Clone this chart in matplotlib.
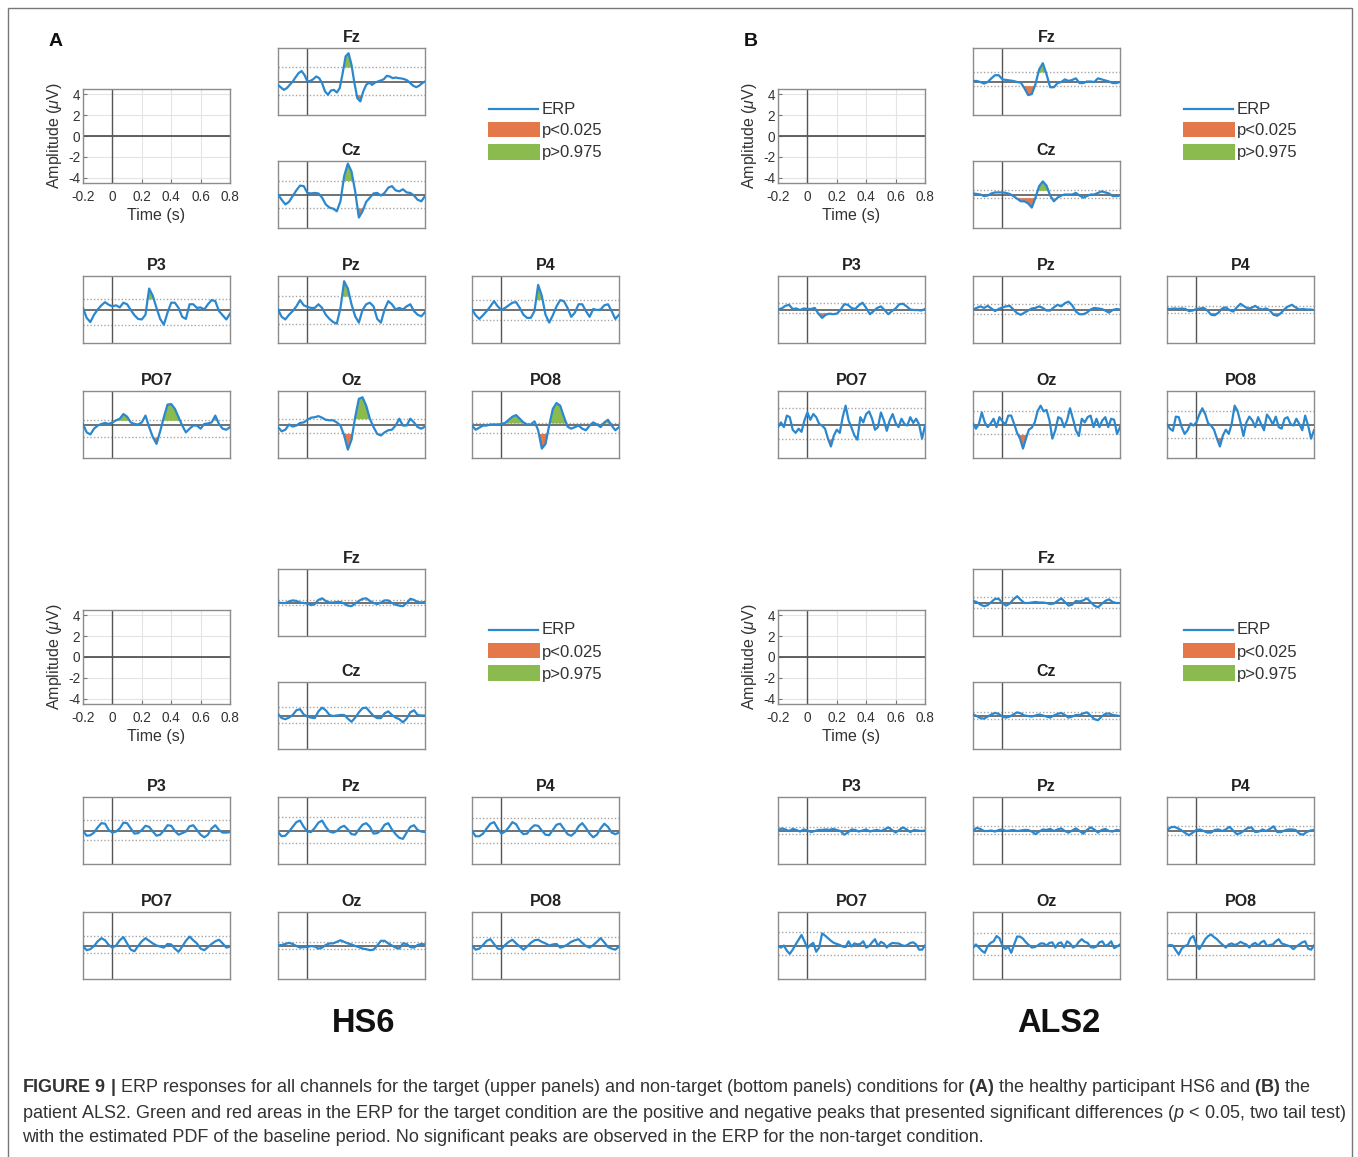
import numpy as np
import matplotlib
matplotlib.use('Agg')
import matplotlib.pyplot as plt
from matplotlib.patches import Rectangle
from matplotlib.lines import Line2D

plt.rcParams['font.family'] = ['Liberation Sans', 'DejaVu Sans']
plt.rcParams['mathtext.fontset'] = 'custom'
plt.rcParams['mathtext.rm'] = 'Liberation Sans'
plt.rcParams['mathtext.it'] = 'Liberation Sans:italic'
plt.rcParams['mathtext.bf'] = 'Liberation Sans:bold'
plt.rcParams['axes.unicode_minus'] = False

# ---------------- data ----------------
channels = ['Fz', 'Cz', 'P3', 'Pz', 'P4', 'PO7', 'Oz', 'PO8']

scale_xticks = [-0.2, 0, 0.2, 0.4, 0.6, 0.8]
scale_xticklabels = ['-0.2', '0', '0.2', '0.4', '0.6', '0.8']
scale_yticks = [-4, -2, 0, 2, 4]
scale_yticklabels = ['-4', '-2', '0', '2', '4']
legend_labels = ['ERP', 'p<0.025', 'p>0.975']
subject_names = ['HS6', 'ALS2']
panel_letters = ['A', 'B']

# HS6, target (uV); samples evenly spaced over -0.2 .. 0.8 s
hs6_t_Fz = [-0.32, -0.57, -0.8, -0.63, -0.32, 0, 0.41, 0.8, 1.0, 0.63, 0, 0.06, 0.22, 0.48, 0.32, -0.16, -0.95,
            -1.27, -0.86, -0.8, -1.05, -0.63, 0.8, 2.4, 2.7, 1.6, -0.16, -1.6, -1.9, -0.95, -0.32, -0.1, -0.32,
            -0.1, 0, 0.1, 0.22, 0.54, 0.48, 0.32, 0.38, 0.32, 0.29, 0.22, 0.1, -0.16, -0.41, -0.54, -0.41, -0.16, 0]
hs6_t_Cz = [0, -0.5, -0.95, -0.7, -0.15, 0.4, 0.85, 0.8, 0.15, 0.1, 0.15, 0.1, -0.3, -0.95, -1.25, -1.35, -1.6,
            -0.65, 1.75, 2.95, 2.2, 0.3, -2.2, -1.6, -0.7, -0.3, 0.1, 0.15, -0.1, 0.15, 0.65, 0.8, 0.4, 0.3, 0.5,
            0.2, 0.15, -0.1, -0.5, -0.65, -0.15]
hs6_t_P3 = [0.15, -0.8, -1.2, -0.5, 0, 0.4, 0.7, 0.45, 0.3, 0.4, 0.2, 0.65, 0.5, -0.05, -0.55, -0.9, -0.95, -0.5,
            2.0, 1.3, 0.15, -0.9, -1.45, -0.3, 0.65, 0.65, 0.15, -0.7, -0.9, 0.5, 0.5, 0.15, 0.2, 0, 0.5, 0.9, 0.8,
            -0.15, -0.55, -0.95, -0.4]
hs6_t_Pz = [0, -0.7, -0.95, -0.5, -0.15, 0.3, 0.9, 0.4, 0.25, 0.15, 0.15, 0.5, 0.15, -0.5, -0.9, -1.2, -1.35, 0.15,
            2.7, 2.0, 0.5, -0.65, -1.25, -0.05, 0.5, 0.65, 0.3, -0.9, -1.25, 0, 0.8, 0.5, 0, 0.15, 0, 0.3, 0.5,
            -0.15, -0.5, -0.65, -0.25]
hs6_t_P4 = [0, -0.55, -0.9, -0.55, -0.15, 0.3, 0.8, 0.3, -0.05, 0.15, 0.4, 0.65, 0.7, 0.15, -0.5, -0.8, -0.8,
            -0.15, 2.35, 1.3, -0.5, -1.25, -0.55, 0.3, 0.9, 0.8, 0.15, -0.7, -0.3, 0.5, 0.5, -0.15, -0.7, 0.05,
            -0.05, 0, 0.4, 0.5, -0.15, -0.9, -0.5]
hs6_t_PO7 = [0.05, -0.75, -0.95, -0.4, -0.1, 0.05, 0.15, 0.05, 0.2, 0.4, 0.55, 1.0, 0.75, 0.2, 0.05, 0, 0.2, 0.85,
             -0.25, -1.2, -1.85, -0.65, 0.7, 1.9, 1.95, 1.5, 0.7, -0.1, -0.75, -0.4, -0.1, -0.1, -0.4, 0.05, 0.1,
             0.2, 0.85, 0.05, -0.4, -0.5, -0.25]
hs6_t_Oz = [-0.25, -0.65, -0.5, 0, -0.2, -0.1, 0.15, 0.2, 0.45, 0.65, 0.7, 0.8, 0.65, 0.45, 0.4, 0.4, 0.2, -0.1,
            -1.05, -2.4, -1.45, 0.7, 2.45, 2.6, 1.8, 0.55, -0.25, -0.9, -1.05, -0.75, -0.55, -0.5, -0.1, 0.55, -0.1,
            -0.1, 0.55, 0.2, -0.25, -0.4, -0.2]
hs6_t_PO8 = [-0.1, -0.5, -0.3, -0.1, -0.1, 0, 0, 0, 0.05, 0.15, 0.45, 0.75, 0.9, 0.55, 0.2, 0, 0, 0.3, -0.55, -2.3,
             -1.85, -0.1, 1.5, 2.05, 1.8, 0.75, -0.2, -0.4, -0.25, -0.1, -0.4, -0.55, -0.1, 0.2, 0, -0.25, 0.2,
             0.45, -0.1, -0.55, -0.25]

# ALS2, target
als2_t_Fz = [0.05, 0.05, -0.05, -0.2, -0.05, 0.3, 0.6, 0.6, 0.2, 0.15, 0.1, 0.05, -0.05, -0.1, -0.65, -1.3, -1.2,
             -0.25, 1.15, 1.75, 0.7, -0.55, -0.55, -0.15, -0.05, 0.2, 0.05, 0.15, 0.3, -0.15, -0.15, 0, 0, -0.05,
             0.3, 0.2, 0.1, 0, -0.15, -0.15, -0.05]
als2_t_Cz = [0.1, 0.05, 0, -0.15, -0.1, 0.1, 0.2, 0.2, 0.2, 0.15, 0.05, -0.15, -0.4, -0.65, -0.65, -0.85, -1.25,
             -0.3, 0.8, 1.25, 0.85, -0.1, -0.65, -0.3, -0.1, 0, 0, 0, 0.15, -0.1, -0.3, -0.15, 0, 0, 0.15, 0.3, 0.2,
             0.1, -0.15, -0.15, -0.1]
als2_t_P3 = [0, 0.1, 0.35, 0.45, 0.05, 0.1, -0.05, 0.1, 0.05, 0.05, 0.15, -0.4, -0.8, -0.5, -0.4, -0.45, -0.4,
             -0.05, 0.5, 0.45, 0.15, 0.05, 0.4, 0.65, 0.15, -0.45, -0.15, 0.15, 0.3, -0.05, -0.45, -0.15, 0.1, 0.5,
             0.55, 0.3, 0, -0.05, -0.05, -0.1, 0.05]
als2_t_Pz = [0, 0.15, 0.3, 0.15, 0.35, 0.1, -0.15, 0.05, 0.2, 0.3, 0.35, 0, -0.35, -0.5, -0.3, -0.1, 0.1, 0.15,
             0.3, 0.15, -0.1, -0.1, 0.2, 0.45, 0.3, 0.6, 0.75, 0.4, -0.2, -0.45, -0.45, -0.3, 0, 0.15, 0.1, 0.05,
             -0.1, -0.3, -0.05, 0.05, 0]
als2_t_P4 = [0.05, 0.05, 0.1, 0.05, 0.1, 0.05, -0.15, -0.1, 0.05, 0.1, 0.15, -0.1, -0.5, -0.55, -0.3, 0.1, 0.2,
             -0.05, -0.2, 0.2, 0.55, 0.3, 0.1, 0.15, 0.35, 0.1, 0, 0.1, -0.1, -0.5, -0.6, -0.35, 0.05, 0.3, 0.45,
             0.2, 0, 0.05, 0, 0, -0.05]
als2_t_PO7 = [-0.25, 0.2, -0.25, 0.85, 0.7, -0.5, -0.8, -0.4, -0.7, 0.4, 1.15, 0.45, 1.0, 0.7, 0.05, -0.1, -0.4,
              -1.35, -2.1, -1.05, -0.5, -0.8, 0.7, 1.8, 0.4, -0.3, -1.05, -1.45, 0.7, 0.2, 1.0, 1.25, 0.55, -0.5,
              -0.25, 1.15, 0.4, -0.6, 0.4, 1.0, 0.15, -0.25, 0.55, 0.05, -0.1, 0.7, 0.15, 0.55, 0, -1.35, -0.1]
als2_t_Oz = [0.1, -0.4, 0.05, 1.15, 0.2, -0.25, 0.1, 0.55, -0.25, 0.7, 0.3, 0, 0.85, 0.85, 0.05, -0.8, -1.35, -2.3,
             -1.35, -0.5, -0.3, 0.2, 1.3, 1.8, 1.25, 1.4, 0.4, -1.35, -0.55, 0.7, 0.55, -0.25, 0.4, 1.55, 0.55,
             -0.55, -1.1, 0.55, 0.2, 0.7, 0.85, -0.25, 0.55, -0.25, 0.4, 0.7, -0.25, 0.55, 0.45, -0.9, -0.25]
als2_t_PO8 = [0.05, -0.4, -0.6, 0.75, 0.7, -0.25, -0.9, -0.55, 0.1, -0.1, 0.2, 0.95, 1.55, 1.0, 0.1, -0.1, -0.5,
              -1.35, -2.1, -1.05, -0.5, -0.9, 0.05, 1.8, 1.3, 0.2, -1.1, 0.2, 0.75, 0.4, -0.25, 0.7, 0.05, -0.55,
              0.95, 0.55, 0, 0.75, -0.25, -0.4, 0.55, 0.7, 0.05, -0.1, 0.55, 0.05, -0.55, 0.85, -0.1, -1.35, -0.55]

# HS6, non-target
hs6_n_Fz = [0, -0.05, -0.05, 0.1, 0.2, 0.15, 0, -0.05, -0.1, -0.25, -0.15, 0.25, 0.4, 0.15, 0, 0, 0.05, 0.05, -0.1,
            -0.3, -0.35, -0.1, 0.15, 0.35, 0.4, 0.15, -0.05, -0.15, 0, 0.2, 0.2, -0.05, -0.2, -0.3, -0.35, -0.05,
            0.35, 0.25, 0.05, 0, 0.05]
hs6_n_Cz = [0.15, -0.25, -0.35, -0.2, 0.05, 0.5, 0.6, 0.1, -0.1, -0.2, -0.25, 0.4, 0.75, 0.5, 0.05, -0.05, 0, 0.05,
            0.05, -0.3, -0.6, -0.2, 0.3, 0.7, 0.75, 0.35, -0.05, -0.25, -0.25, 0.2, 0.4, 0.05, -0.2, -0.35, -0.65,
            -0.3, 0.3, 0.5, 0.05, 0, 0]
hs6_n_P3 = [-0.05, -0.5, -0.45, -0.2, 0.3, 0.7, 0.65, 0.05, -0.2, -0.1, 0.2, 0.75, 0.7, 0.2, -0.3, -0.25, 0.05,
            0.45, 0.35, -0.1, -0.5, -0.4, 0, 0.5, 0.45, -0.05, -0.4, -0.25, -0.1, 0.4, 0.5, 0.05, -0.4, -0.65, -0.4,
            0.2, 0.5, 0.05, -0.2, -0.2, -0.15]
hs6_n_Pz = [-0.15, -0.55, -0.5, -0.1, 0.35, 0.8, 0.95, 0.35, -0.1, -0.15, 0.25, 0.75, 0.95, 0.35, -0.1, -0.2,
            -0.05, 0.3, 0.45, 0.1, -0.35, -0.4, 0.1, 0.55, 0.7, 0.35, -0.3, -0.25, 0, 0.55, 0.7, 0.1, -0.35, -0.7,
            -0.8, -0.2, 0.35, 0.5, 0.05, -0.1, -0.15]
hs6_n_P4 = [-0.05, -0.55, -0.55, -0.3, 0.2, 0.65, 0.8, 0.2, -0.3, -0.1, 0.3, 0.8, 0.6, 0, -0.35, -0.3, 0.2, 0.5,
            0.45, 0, -0.4, -0.45, 0.05, 0.55, 0.65, 0.15, -0.35, -0.5, -0.2, 0.4, 0.7, 0.25, -0.3, -0.65, -0.4, 0.2,
            0.65, 0.35, -0.2, -0.35, -0.2]
hs6_n_PO7 = [-0.05, -0.45, -0.35, -0.05, 0.4, 0.7, 0.5, 0.05, -0.2, 0, 0.5, 0.8, 0.2, -0.4, -0.55, -0.05, 0.4, 0.7,
             0.45, 0.2, 0, -0.1, -0.2, 0.15, 0.1, -0.3, -0.6, -0.1, 0.45, 0.85, 0.5, 0.2, -0.3, -0.45, -0.15, 0.15,
             0.4, 0.55, 0.2, -0.2, -0.1]
hs6_n_Oz = [0, 0.05, 0.15, 0.25, 0.15, -0.05, -0.2, -0.15, -0.15, -0.05, -0.1, -0.3, -0.2, 0.05, 0.2, 0.2, 0.35,
            0.5, 0.35, 0.2, 0.1, -0.05, -0.15, -0.3, -0.35, -0.45, -0.4, 0, 0.45, 0.45, 0.2, 0, -0.2, -0.3, 0.2,
            0.15, -0.15, -0.2, 0.05, 0.15, 0.1]
hs6_n_PO8 = [-0.05, -0.4, -0.3, 0.05, 0.45, 0.6, 0.15, -0.3, -0.35, 0.05, 0.35, 0.55, 0.2, -0.1, -0.4, -0.1, 0.25,
             0.5, 0.55, 0.35, 0.2, 0, 0.1, 0.15, -0.2, -0.1, 0.1, 0.35, 0.5, 0.6, 0.25, -0.05, -0.2, 0.05, 0.35,
             0.7, 0.3, -0.15, -0.3, -0.4, -0.1]

# ALS2, non-target
als2_n_Fz = [0.15, 0.05, -0.2, -0.35, -0.25, 0.05, 0.35, 0.35, -0.05, -0.3, -0.1, 0.3, 0.6, 0.25, -0.05, -0.05, 0,
             0.05, 0, 0, -0.05, -0.15, -0.1, 0.15, 0.4, 0.05, -0.3, -0.2, 0.15, 0.1, 0.2, 0.4, 0.05, -0.3, -0.45,
             -0.15, 0.15, 0.3, 0.05, -0.05, -0.05]
als2_n_Cz = [0.1, -0.05, -0.25, -0.3, -0.1, 0.1, 0.25, 0.15, -0.1, -0.2, -0.1, 0.1, 0.3, 0.2, 0, -0.05, -0.1, 0,
             0.1, 0, -0.1, -0.2, 0, 0.15, 0.25, 0.05, -0.2, -0.1, 0.05, 0.05, 0.2, 0.3, 0, -0.35, -0.45, -0.1, 0.15,
             0.2, 0.05, 0, -0.05]
als2_n_P3 = [0, 0.2, 0.1, -0.05, 0.15, 0.05, -0.1, 0.1, 0, -0.15, -0.05, 0.05, 0.05, 0.1, 0.05, 0.15, 0.05, -0.05,
             -0.4, -0.2, 0.1, 0.05, -0.1, 0, 0.1, -0.1, 0, 0.05, -0.05, 0.1, 0.3, 0.05, -0.2, 0.05, 0.3, 0.1, -0.15,
             0.05, 0, -0.05, 0]
als2_n_Pz = [0, 0.25, 0.15, -0.05, -0.05, 0, -0.1, 0.05, 0.1, -0.05, 0, 0.05, -0.05, 0, 0.05, 0.05, -0.1, -0.35,
             -0.1, 0.1, 0.05, 0.15, -0.05, 0.1, 0.2, -0.05, -0.2, 0, 0.2, -0.05, -0.3, 0.05, 0.3, 0.1, -0.2, 0.05,
             0.15, -0.05, -0.1, 0.05, 0]
als2_n_P4 = [0.05, 0.3, 0.35, 0.2, 0, -0.25, -0.45, -0.2, 0.05, 0.1, -0.05, -0.2, -0.2, 0.05, 0.1, -0.05, 0.1,
             0.35, 0, -0.35, -0.25, 0, 0.25, 0.3, -0.15, -0.1, 0.1, -0.05, 0.15, 0.4, -0.15, -0.15, 0, 0.1, 0.1,
             0.05, -0.3, -0.4, -0.15, 0, 0.05]
als2_n_PO7 = [-0.05, -0.2, 0, -0.5, -0.8, -0.4, 0.1, 0.55, 1.0, 0.4, -0.25, 0.05, 0.25, -0.6, -0.2, 1.15, 0.95,
              0.7, 0.45, 0.25, 0.15, 0.05, -0.1, -0.15, 0.4, -0.1, 0.2, 0.1, 0.15, 0.4, -0.2, -0.05, 0.3, 0.6,
              -0.05, 0.35, 0.2, -0.2, 0.1, 0.25, 0.2, 0.2, 0.05, -0.05, 0.05, 0.25, 0.3, 0.1, -0.4, -0.4, 0]
als2_n_Oz = [-0.2, 0.1, -0.2, -0.5, -0.7, -0.05, 0.25, 0.4, 0.9, 0.7, 0, -0.35, -0.1, -0.7, 0.1, 0.85, 0.85, 0.65,
             0.3, 0.05, -0.2, -0.15, 0, 0.2, 0.2, 0, 0.25, 0.3, -0.2, 0.2, 0.3, -0.2, 0.4, 0.2, -0.2, -0.05, 0.35,
             0.6, 0.35, 0.25, -0.15, -0.2, -0.1, 0.3, 0.4, -0.05, 0.1, 0.4, -0.25, -0.1, 0.1]
als2_n_PO8 = [-0.05, 0.05, 0, -0.45, -0.85, -0.3, -0.05, 0.05, 0.7, 0.9, 0.05, -0.35, 0.1, 0.6, 0.9, 1.05, 0.8,
              0.6, 0.3, 0.05, -0.2, 0.1, 0.2, 0.05, 0.15, 0.35, 0.2, 0.1, -0.2, 0.1, 0.25, 0, 0.3, 0.45, -0.05,
              0.05, 0.1, 0.4, 0.6, 0.2, 0.1, 0, -0.1, -0.35, -0.1, 0.1, 0.3, 0.4, -0.3, -0.4, 0]

# baseline PDF thresholds (uV), channel order as in `channels`
hs6_t_upper = [1.37, 1.33, 1.0, 1.27, 0.95, 0.4, 0.55, 0.15]
hs6_t_lower = [-1.27, -1.27, -1.5, -1.37, -1.05, -1.2, -0.85, -0.85]
als2_t_upper = [0.9, 0.4, 0.6, 0.55, 0.3, 1.6, 1.3, 1.3]
als2_t_lower = [-0.4, -0.3, -0.3, -0.4, -0.3, -1.4, -0.95, -1.25]
hs6_n_upper = [0.25, 0.8, 1.0, 1.3, 1.2, 0.9, 0.3, 0.8]
hs6_n_lower = [-0.25, -0.7, -0.9, -1.15, -1.2, -0.75, -0.3, -0.7]
als2_n_upper = [0.55, 0.3, 0.35, 0.4, 0.45, 1.25, 1.2, 1.2]
als2_n_lower = [-0.55, -0.3, -0.3, -0.3, -0.45, -0.95, -0.95, -0.95]

# significant peak windows (s)
hs6_t_pos = {'Fz': [(0.22, 0.32)], 'Cz': [(0.22, 0.32)], 'P3': [(0.22, 0.30)], 'Pz': [(0.22, 0.30)],
             'P4': [(0.22, 0.30)], 'PO7': [(0.04, 0.12), (0.34, 0.46), (0.67, 0.73)], 'Oz': [(0.32, 0.44)],
             'PO8': [(0.03, 0.17), (0.33, 0.45), (0.69, 0.75)]}
hs6_t_neg = {'Fz': [(0.33, 0.40)], 'Cz': [(0.33, 0.40)], 'P4': [(0.30, 0.36)], 'PO7': [(0.25, 0.33)],
             'Oz': [(0.23, 0.31), (0.46, 0.53)], 'PO8': [(0.24, 0.32)]}
als2_t_pos = {'Fz': [(0.23, 0.31)], 'Cz': [(0.23, 0.31)], 'PO8': [(0.24, 0.28)]}
als2_t_neg = {'Fz': [(0.13, 0.22), (0.31, 0.36)], 'Cz': [(0.08, 0.23)], 'P3': [(0.07, 0.14), (0.52, 0.58)],
              'P4': [(0.08, 0.16), (0.5, 0.6)], 'PO7': [(0.12, 0.19)], 'Oz': [(0.11, 0.18)], 'PO8': [(0.12, 0.19)]}

caption_lines = [
    r"$\bf{FIGURE\ 9\ |}$ ERP responses for all channels for the target (upper panels) and non-target (bottom panels) conditions for $\bf{(A)}$ the healthy participant HS6 and $\bf{(B)}$ the",
    r"patient ALS2. Green and red areas in the ERP for the target condition are the positive and negative peaks that presented significant differences ($\it{p}$ < 0.05, two tail test)",
    "with the estimated PDF of the baseline period. No significant peaks are observed in the ERP for the non-target condition.",
]

# ---------------- layout / style ----------------
W, H = 1358, 1157
BLUE = '#2b88cf'
ORANGE = '#e4784a'
GREEN = '#8bba4e'
TXT = '#333333'

fig = plt.figure(figsize=(W / 100, H / 100), dpi=100)


def box(x, y, w, h):
    return fig.add_axes([x / W, 1 - (y + h) / H, w / W, h / H])


chan_pos = {'Fz': (278, 48), 'Cz': (278, 161), 'P3': (83, 276), 'Pz': (278, 276), 'P4': (472, 276),
            'PO7': (83, 391), 'Oz': (278, 391), 'PO8': (472, 391)}

groups = [
    (0, 0, [hs6_t_Fz, hs6_t_Cz, hs6_t_P3, hs6_t_Pz, hs6_t_P4, hs6_t_PO7, hs6_t_Oz, hs6_t_PO8],
     hs6_t_upper, hs6_t_lower, hs6_t_pos, hs6_t_neg),
    (695, 0, [als2_t_Fz, als2_t_Cz, als2_t_P3, als2_t_Pz, als2_t_P4, als2_t_PO7, als2_t_Oz, als2_t_PO8],
     als2_t_upper, als2_t_lower, als2_t_pos, als2_t_neg),
    (0, 521, [hs6_n_Fz, hs6_n_Cz, hs6_n_P3, hs6_n_Pz, hs6_n_P4, hs6_n_PO7, hs6_n_Oz, hs6_n_PO8],
     hs6_n_upper, hs6_n_lower, {}, {}),
    (695, 521, [als2_n_Fz, als2_n_Cz, als2_n_P3, als2_n_Pz, als2_n_P4, als2_n_PO7, als2_n_Oz, als2_n_PO8],
     als2_n_upper, als2_n_lower, {}, {}),
]


def channel_panel(x, y, name, vals, up, lo, pos_w, neg_w):
    ax = box(x, y, 147, 67)
    v = np.asarray(vals, dtype=float)
    t = np.linspace(-0.2, 0.8, len(v))
    ax.set_xlim(-0.2, 0.8)
    ax.set_ylim(-3.2, 3.2)
    ax.set_xticks([])
    ax.set_yticks([])
    for s in ax.spines.values():
        s.set_color('#8c8c8c')
        s.set_linewidth(1.0)
    ax.axhline(up, color='#a5a5a5', ls=(0, (1, 1.5)), lw=1.0, zorder=1)
    ax.axhline(lo, color='#a5a5a5', ls=(0, (1, 1.5)), lw=1.0, zorder=1)
    ax.axhline(0, color='#666666', lw=1.3, zorder=2)
    ax.axvline(0, color='#555555', lw=1.0, zorder=2)
    for a, b in pos_w:
        m = (t >= a - 1e-9) & (t <= b + 1e-9) & (v > up)
        ax.fill_between(t, v, up, where=m, interpolate=True, color=GREEN, lw=0, zorder=3)
    for a, b in neg_w:
        m = (t >= a - 1e-9) & (t <= b + 1e-9) & (v < lo)
        ax.fill_between(t, v, lo, where=m, interpolate=True, color=ORANGE, lw=0, zorder=3)
    ax.plot(t, v, color=BLUE, lw=1.6, zorder=4, solid_joinstyle='round')
    ax.set_title(name, fontsize=11.5, fontweight='bold', pad=4.5, color='#222222')


def scale_panel(x, y):
    ax = box(x, y, 147, 94)
    ax.set_xlim(-0.2, 0.8)
    ax.set_ylim(-4.5, 4.5)
    ax.set_xticks(scale_xticks)
    ax.set_xticklabels(scale_xticklabels)
    ax.set_yticks(scale_yticks)
    ax.set_yticklabels(scale_yticklabels)
    ax.tick_params(direction='in', length=3, width=0.8, labelsize=9.8, labelcolor=TXT, color='#777777')
    ax.tick_params(axis='x', pad=5)
    ax.tick_params(axis='y', pad=2)
    ax.grid(True, color='#e4e4e4', lw=0.8)
    ax.axhline(0, color='#555555', lw=1.3)
    ax.axvline(0, color='#555555', lw=1.0)
    for s in ax.spines.values():
        s.set_color('#8c8c8c')
        s.set_linewidth(1.0)
    ax.set_xlabel('Time (s)', fontsize=11.5, color=TXT, labelpad=3)
    ax.set_ylabel(r'Amplitude ($\mu$V)', fontsize=11.5, color=TXT, labelpad=3)


def legend_block(dx, dy):
    fig.add_artist(Line2D([(489 + dx) / W, (538 + dx) / W], [1 - (109 + dy) / H] * 2,
                          transform=fig.transFigure, color=BLUE, lw=1.6))
    fig.add_artist(Rectangle(((488 + dx) / W, 1 - (137 + dy) / H), 52 / W, 15 / H,
                             transform=fig.transFigure, color=ORANGE, lw=0))
    fig.add_artist(Rectangle(((488 + dx) / W, 1 - (160 + dy) / H), 52 / W, 16 / H,
                             transform=fig.transFigure, color=GREEN, lw=0))
    for lab, yy in zip(legend_labels, [109, 131, 153]):
        fig.text((542 + dx) / W, 1 - (yy + dy) / H, lab, fontsize=12, color=TXT, ha='left', va='center')


for dx, dy, traces, ups, los, pos_d, neg_d in groups:
    for i, ch in enumerate(channels):
        px, py = chan_pos[ch]
        channel_panel(px + dx, py + dy, ch, traces[i], ups[i], los[i], pos_d.get(ch, []), neg_d.get(ch, []))
    scale_panel(83 + dx, 89 + dy)
    legend_block(dx, dy)

for letter, xx in zip(panel_letters, [56, 751]):
    fig.text(xx / W, 1 - 41 / H, letter, fontsize=14, fontweight='bold', ha='center', va='center', color='#111111')

for name, xx in zip(subject_names, [364, 1059]):
    fig.text(xx / W, 1 - 1023 / H, name, fontsize=23.5, fontweight='bold', ha='center', va='center',
             color='#111111')

for line, yy in zip(caption_lines, [1088, 1113, 1138]):
    fig.text(22 / W, 1 - yy / H, line, fontsize=13, color=TXT, ha='left', va='center')

fig.add_artist(Rectangle((8 / W, -0.02), (1352 - 8) / W, 1 - 8 / H + 0.02, transform=fig.transFigure,
                         fill=False, ec='#777777', lw=1.0))

fig.savefig('out.png', dpi=100)
